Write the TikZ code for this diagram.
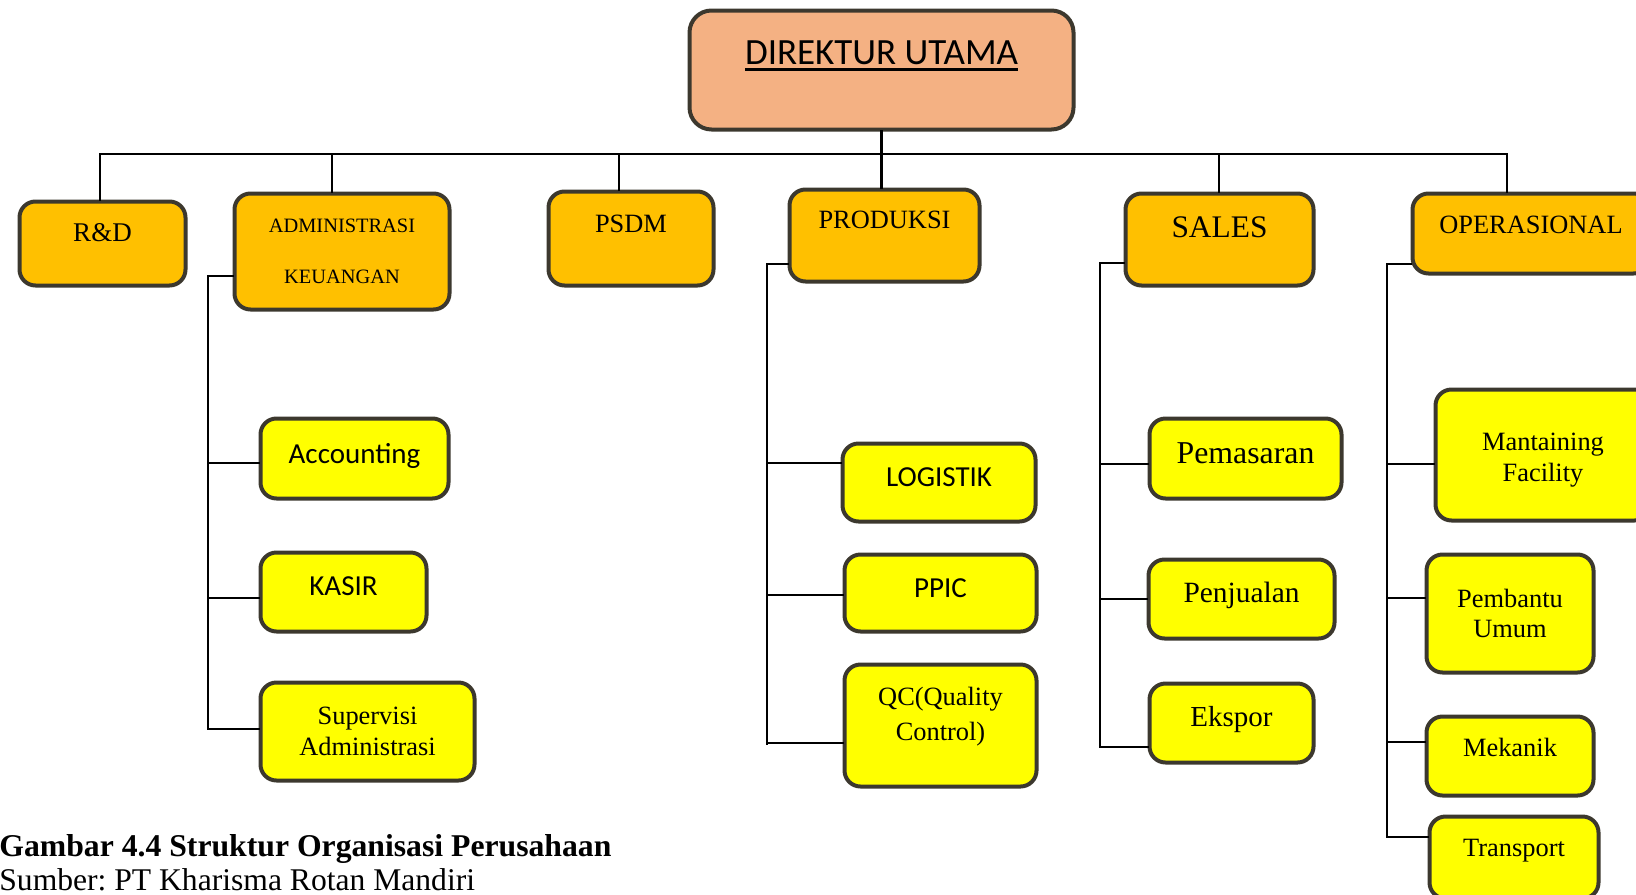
\documentclass[tikz,border=0pt]{standalone}
\usepackage{fontspec}
\setmainfont{Liberation Serif}
\newfontfamily\calibri{Carlito}
\frenchspacing

\definecolor{boxline}{RGB}{60,56,46}
\definecolor{headfill}{RGB}{244,177,131}
\definecolor{unitfill}{RGB}{255,192,0}
\definecolor{subfill}{RGB}{255,255,0}

\newsavebox{\ulbox}
\newcommand{\thickul}[1]{\sbox{\ulbox}{#1}\usebox{\ulbox}\llap{\rule[-3pt]{\wd\ulbox}{1.3pt}}}
\newcommand{\lift}[2]{\raisebox{#1}[\height][\depth]{#2}}

\begin{document}
\begin{tikzpicture}[x=0.5pt, y=-0.5pt,
    box/.style={rectangle, rounded corners=8pt, draw=boxline, line width=2pt, inner sep=0pt,
      align=center, font=\fontsize{13.2}{15.5}\selectfont},
    unit/.style={box, fill=unitfill},
    sub/.style={box, fill=subfill},
    cal/.style={font=\calibri\fontsize{14.5}{17}\selectfont},
    link/.style={line width=1.2pt, line cap=rect}]
  \useasboundingbox (0,0) rectangle (1636,894);

  % top
  \node (dir) [box, fill=headfill, rounded corners=11pt, minimum width=192pt, minimum height=59.5pt,
    text depth=17pt, font=\calibri\fontsize{18.5}{22}\selectfont] at (881.5,70) {\thickul{DIREKTUR UTAMA}};

  % units
  \node (rd) [unit, minimum width=83pt, minimum height=42pt, text depth=10.5pt,
    font=\fontsize{13.5}{16}\selectfont] at (102.5,243.5) {R\&D};
  \node (adm) [unit, minimum width=107.5pt, minimum height=58pt,
    font=\fontsize{10.2}{25.5}\selectfont] at (342,251.5) {ADMINISTRASI\\KEUANGAN};
  \node (psdm) [unit, minimum width=82.5pt, minimum height=47pt, text depth=14.5pt] at (631,238.5) {PSDM};
  \node (prod) [unit, minimum width=95pt, minimum height=46pt, text depth=15.5pt] at (884.5,235.5) {PRODUKSI};
  \node (sales) [unit, minimum width=94pt, minimum height=46pt, text depth=12pt,
    font=\fontsize{15.7}{18}\selectfont] at (1219.5,239.5) {SALES};
  \node (ops) [unit, minimum width=118.5pt, minimum height=40pt, text depth=8.5pt] at (1531,233.5) {OPERASIONAL};

  % administrasi keuangan
  \node (acc) [sub, cal, minimum width=94pt, minimum height=40pt, text depth=5pt] at (354.5,458.5) {Accounting};
  \node (kasir) [sub, cal, minimum width=83pt, minimum height=39.5pt, text depth=6pt] at (343.5,592) {KASIR};
  \node (sup) [sub, minimum width=107pt, minimum height=49pt] at (367.5,731.5) {Supervisi\\Administrasi};

  % produksi
  \node (log) [sub, cal, minimum width=96.5pt, minimum height=39pt, text depth=5.5pt] at (939,482.5) {LOGISTIK};
  \node (ppic) [sub, cal, minimum width=96pt, minimum height=38.5pt, text depth=5pt] at (940.5,593) {PPIC};
  \node (qc) [sub, minimum width=96pt, minimum height=61pt, font=\fontsize{13.2}{17.5}\selectfont] at (940.5,725.5)
    {\lift{5pt}{\begin{tabular}{@{}c@{}}QC(Quality\\Control)\end{tabular}}};

  % sales
  \node (pem) [sub, minimum width=96pt, minimum height=40pt, text depth=5.5pt,
    font=\fontsize{15.9}{18}\selectfont] at (1245.5,458.5) {Pemasaran};
  \node (penj) [sub, minimum width=93pt, minimum height=39.5pt, text depth=7pt,
    font=\fontsize{14.7}{17}\selectfont] at (1241.5,599) {Penjualan};
  \node (eks) [sub, minimum width=82pt, minimum height=39.5pt, text depth=7pt,
    font=\fontsize{14.5}{17}\selectfont] at (1231.5,723) {Ekspor};

  % operasional
  \node (mf) [sub, minimum width=107.5pt, minimum height=65.5pt] at (1543,455)
    {\lift{-2.5pt}{\begin{tabular}{@{}c@{}}Mantaining\\Facility\end{tabular}}};
  \node (pu) [sub, minimum width=83.5pt, minimum height=59pt, font=\fontsize{13.2}{15}\selectfont] at (1510,613.5) {Pembantu\\Umum};
  \node (mek) [sub, minimum width=83.5pt, minimum height=39.5pt, text depth=9pt] at (1510,756) {Mekanik};
  \node (trans) [sub, minimum width=84.5pt, minimum height=41pt, text depth=9.5pt] at (1514,857.5) {Transport};

  % lines
  \coordinate (busL) at (100,154);
  \coordinate (busR) at (1507,154);
  \draw[link] (busL) -- (busR);
  \draw[link] (dir.south) -- (dir.south |- prod.north);
  \foreach \c/\x in {rd/100, adm/332, psdm/619, sales/1219, ops/1507}
    \draw[link] (\x,154) coordinate (drop) -- (drop |- \c.north);
  \foreach \p/\x/\y/\e in {adm/208/276/729, prod/767/264/744, sales/1100/263/747, ops/1387/264/837}
    \draw[link] (\x,\y) coordinate (top) -- (top -| \p.west) (top) -- (\x,\e);
  \foreach \c/\x/\y in {acc/208/463, kasir/208/598, sup/208/729, log/767/463, ppic/767/595, qc/767/743,
      pem/1100/464, penj/1100/599, eks/1100/747, mf/1387/464, pu/1387/598, mek/1387/742, trans/1387/837}
    \draw[link] (\x,\y) coordinate (stub) -- (stub -| \c.west);

  % caption
  \node (cap) [anchor=base west, inner sep=0pt, font=\bfseries\fontsize{15.85}{19}\selectfont] at (-1,856)
    {Gambar 4.4 Struktur Organisasi Perusahaan};
  \node (src) [anchor=base west, inner sep=0pt, font=\fontsize{15.8}{19}\selectfont] at (-1,890)
    {Sumber: PT Kharisma Rotan Mandiri};
\end{tikzpicture}
\end{document}
